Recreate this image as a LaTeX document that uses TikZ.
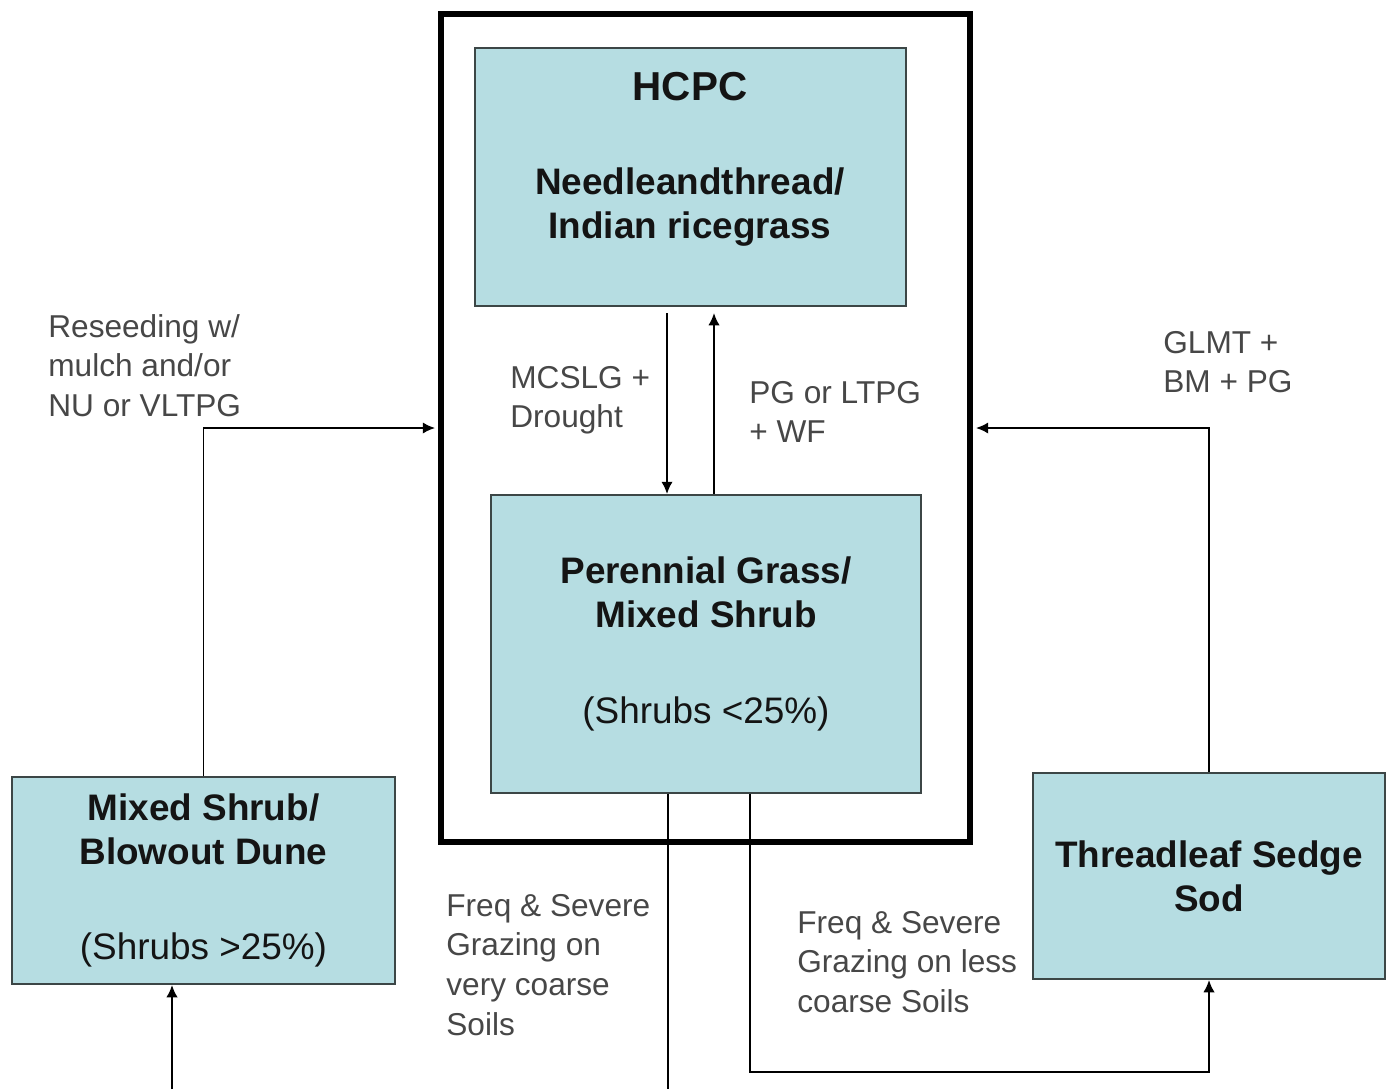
\documentclass[tikz,border=0pt]{standalone}
\usepackage{fontspec}
\setmainfont{Liberation Sans}
\usetikzlibrary{arrows.meta}
\definecolor{boxfill}{HTML}{B6DDE2}
\definecolor{boxline}{HTML}{3C4646}
\definecolor{labgray}{HTML}{474747}
\definecolor{titleblack}{HTML}{141414}
\begin{document}
\begin{tikzpicture}[x=0.02cm, y=-0.02cm, >={Latex[length=7pt,width=6.5pt]},
  statebox/.style={draw=boxline, line width=1.1pt, fill=boxfill, align=center, inner sep=0pt, text=titleblack, font=\fontsize{21}{25}\selectfont\bfseries},
  note/.style={anchor=north west, align=left, inner sep=0pt, text=labgray, font=\fontsize{18}{22.5}\selectfont},
  link/.style={line width=1.1pt}]
\useasboundingbox (0,0) rectangle (1389,1089);
\node[draw, line width=3.4pt, minimum width=10.58cm, minimum height=16.56cm] (outer) at (705.5,428) {};
\node[statebox, minimum width=8.62cm, minimum height=5.16cm] (hcpc) at (690.5,177) {};
\node[text=titleblack, font=\fontsize{23}{27}\selectfont\bfseries] (hcpcname) at (690,87) {HCPC};
\node[text=titleblack, align=center, font=\fontsize{21}{25}\selectfont\bfseries] (hcpcsub) at (690,207) {Needleandthread/\\Indian ricegrass};
\node[statebox, minimum width=8.6cm, minimum height=5.96cm] (pg) at (706,644) {Perennial Grass/\\Mixed Shrub\\[30pt]\mdseries (Shrubs <25\%)};
\node[statebox, minimum width=7.66cm, minimum height=4.14cm] (ms) at (203.5,880.5) {Mixed Shrub/\\Blowout Dune\\[29pt]\mdseries (Shrubs >25\%)};
\node[statebox, minimum width=7.04cm, minimum height=4.12cm] (ts) at (1209,876) {Threadleaf Sedge\\Sod};
\node[note] (reseed) at (48,314) {Reseeding w/\\mulch and/or\\NU or VLTPG};
\node[note] (mcslg) at (510,366) {MCSLG +\\Drought};
\node[note] (pgltpg) at (749,381) {PG or LTPG\\+ WF};
\node[note] (glmt) at (1163,331) {GLMT +\\BM + PG};
\node[note] (freqvc) at (446,894) {Freq \& Severe\\Grazing on\\very coarse\\Soils};
\node[note] (freqlc) at (797,911) {Freq \& Severe\\Grazing on less\\coarse Soils};
\coordinate (gapdn) at (667,313);
\coordinate (gapup) at (714,313);
\coordinate (cutmid) at (668,1089);
\coordinate (cutleft) at (172,1089);
\coordinate (turn) at (750,1072);
\draw[link,->] (gapdn) -- (gapdn |- pg.north);
\draw[link,->] (gapup |- pg.north) -- (gapup);
\draw[link,->,shorten >=1.7pt] (ms.north) |- (outer.west);
\draw[link,->,shorten >=1.7pt] (ts.north) |- (outer.east);
\draw[link] (cutmid |- pg.south) -- (cutmid);
\draw[link,->] (cutleft) -- (cutleft |- ms.south);
\draw[link,->] (turn |- pg.south) -- (turn) -| (ts.south);
\end{tikzpicture}
\end{document}
